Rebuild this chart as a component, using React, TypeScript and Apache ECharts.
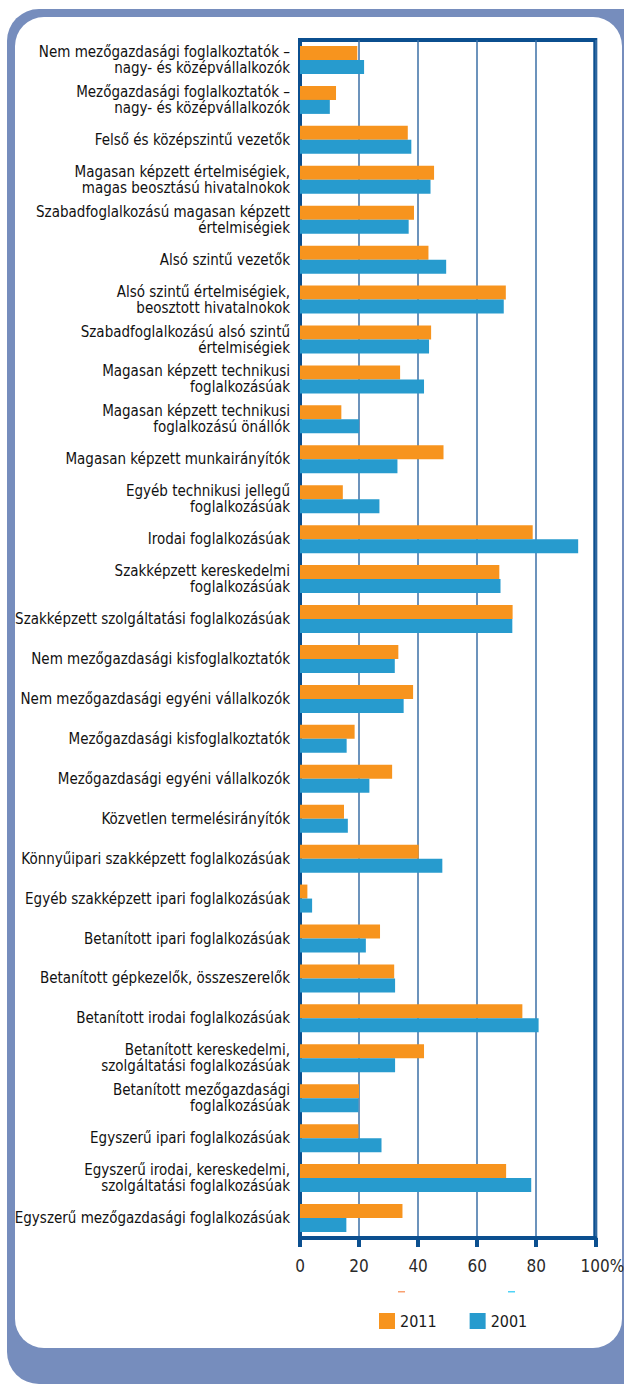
import React, { useEffect, useRef } from "react";
import * as echarts from "echarts";

const categories: string[] = [
  "Nem mezőgazdasági foglalkoztatók –\nnagy- és középvállalkozók",
  "Mezőgazdasági foglalkoztatók –\nnagy- és középvállalkozók",
  "Felső és középszintű vezetők",
  "Magasan képzett értelmiségiek,\nmagas beosztású hivatalnokok",
  "Szabadfoglalkozású magasan képzett\nértelmiségiek",
  "Alsó szintű vezetők",
  "Alsó szintű értelmiségiek,\nbeosztott hivatalnokok",
  "Szabadfoglalkozású alsó szintű\nértelmiségiek",
  "Magasan képzett technikusi\nfoglalkozásúak",
  "Magasan képzett technikusi\nfoglalkozású önállók",
  "Magasan képzett munkairányítók",
  "Egyéb technikusi jellegű\nfoglalkozásúak",
  "Irodai foglalkozásúak",
  "Szakképzett kereskedelmi\nfoglalkozásúak",
  "Szakképzett szolgáltatási foglalkozásúak",
  "Nem mezőgazdasági kisfoglalkoztatók",
  "Nem mezőgazdasági egyéni vállalkozók",
  "Mezőgazdasági kisfoglalkoztatók",
  "Mezőgazdasági egyéni vállalkozók",
  "Közvetlen termelésirányítók",
  "Könnyűipari szakképzett foglalkozásúak",
  "Egyéb szakképzett ipari foglalkozásúak",
  "Betanított ipari foglalkozásúak",
  "Betanított gépkezelők, összeszerelők",
  "Betanított irodai foglalkozásúak",
  "Betanított kereskedelmi,\nszolgáltatási foglalkozásúak",
  "Betanított mezőgazdasági\nfoglalkozásúak",
  "Egyszerű ipari foglalkozásúak",
  "Egyszerű irodai, kereskedelmi,\nszolgáltatási foglalkozásúak",
  "Egyszerű mezőgazdasági foglalkozásúak",
];

const values2011: number[] = [
  19.4, 12.2, 36.5, 45.4, 38.6, 43.5, 69.7, 44.4, 33.9, 14.0,
  48.6, 14.5, 78.8, 67.5, 72.0, 33.3, 38.3, 18.5, 31.2, 14.9,
  40.2, 2.5, 27.1, 31.9, 75.3, 42.0, 20.0, 19.8, 69.8, 34.7,
];

const values2001: number[] = [
  21.7, 10.1, 37.7, 44.2, 36.8, 49.5, 69.0, 43.7, 42.0, 20.0,
  33.0, 26.9, 94.2, 67.9, 71.9, 32.1, 35.1, 15.8, 23.5, 16.2,
  48.2, 4.1, 22.3, 32.2, 80.8, 32.2, 19.8, 27.6, 78.3, 15.7,
];

const seriesNames: string[] = ["2011", "2001"];
const xTicks: number[] = [0, 20, 40, 60, 80, 100];

const FONT = "'DejaVu Sans Condensed', 'Liberation Sans Narrow', sans-serif";
const ORANGE = "#F7941E";
const BLUE = "#279BCE";
const AXIS = "#0B4F8F";

export default function App() {
  const ref = useRef<HTMLDivElement>(null);

  useEffect(() => {
    document.body.style.margin = "0";
    if (!ref.current) return;
    const chart = echarts.init(ref.current, undefined, { renderer: "svg" });
    chart.setOption({
      animation: false,
      grid: {
        left: 300,
        right: 28.7,
        top: 40,
        bottom: 146,
        show: true,
        borderColor: AXIS,
        borderWidth: 4,
        containLabel: false,
        outerBoundsMode: "none",
      },
      legend: {
        data: seriesNames,
        left: 374,
        top: 1308,
        icon: "rect",
        itemWidth: 16,
        itemHeight: 16,
        itemGap: 33,
        textStyle: { fontFamily: FONT, fontSize: 16, color: "#1a1a1a" },
      },
      xAxis: {
        type: "value",
        min: xTicks[0],
        max: xTicks[xTicks.length - 1],
        interval: 20,
        position: "bottom",
        axisLine: { show: true, lineStyle: { color: AXIS, width: 4 } },
        axisTick: { show: true, length: 9, lineStyle: { color: AXIS, width: 4 } },
        splitLine: { show: true, lineStyle: { color: "#3B6FA6", width: 1.5 } },
        axisLabel: {
          margin: 19,
          fontFamily: FONT,
          fontSize: 17,
          color: "#2a2a2a",
          formatter: (v: number) => (v === 100 ? "{p|100%}" : String(v)),
          rich: {
            p: { fontFamily: FONT, fontSize: 17, color: "#2a2a2a", padding: [0, 0, 0, 14] },
          },
        },
      },
      yAxis: {
        type: "category",
        inverse: true,
        data: categories,
        axisLine: { show: true, lineStyle: { color: AXIS, width: 4 } },
        axisTick: { show: false },
        splitLine: { show: false },
        axisLabel: {
          margin: 10,
          fontFamily: FONT,
          fontSize: 15,
          lineHeight: 16,
          color: "#111111",
          align: "right",
        },
      },
      series: [
        {
          name: seriesNames[0],
          type: "bar",
          data: values2011,
          barWidth: 14,
          barGap: "0%",
          itemStyle: { color: ORANGE },
        },
        {
          name: seriesNames[1],
          type: "bar",
          data: values2001,
          barWidth: 14,
          barGap: "0%",
          itemStyle: { color: BLUE },
        },
      ],
      graphic: [
        { type: "rect", shape: { x: 398, y: 1291, width: 7, height: 1.5 }, style: { fill: "#F9A070" } },
        { type: "rect", shape: { x: 508, y: 1291, width: 7, height: 1.5 }, style: { fill: "#4FD3F7" } },
      ],
    });
    return () => chart.dispose();
  }, []);

  return (
    <div style={{ position: "relative", width: 624, height: 1384, overflow: "hidden", background: "#ffffff" }}>
      <div
        style={{
          position: "absolute",
          left: 7,
          top: 9,
          width: 650,
          height: 1375,
          borderRadius: 32,
          background: "#768DBD",
        }}
      />
      <div
        style={{
          position: "absolute",
          left: 15,
          top: 17,
          width: 607,
          height: 1331,
          borderRadius: 29,
          background: "#ffffff",
        }}
      />
      <div ref={ref} style={{ position: "absolute", left: 0, top: 0, width: 624, height: 1384 }} />
    </div>
  );
}
